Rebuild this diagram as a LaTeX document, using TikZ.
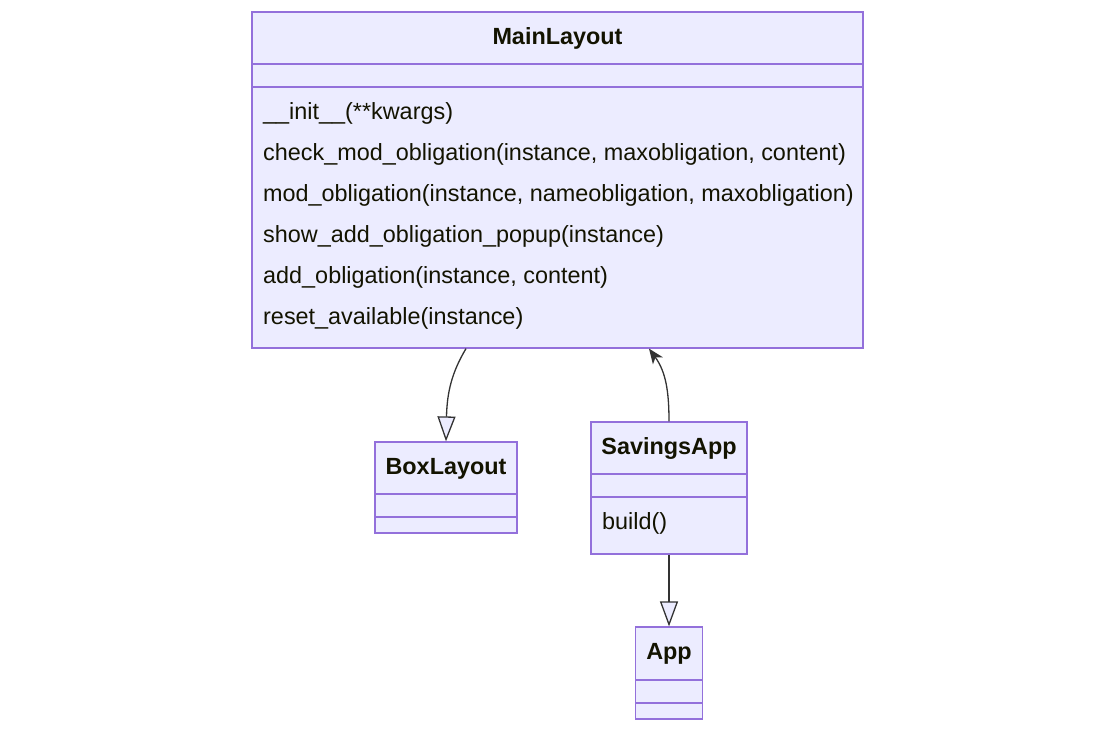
\documentclass[tikz,border=0pt]{standalone}
\usepackage{fontspec}
\setmainfont{Liberation Sans}
\usetikzlibrary{arrows.meta}
\definecolor{boxfill}{HTML}{ECECFF}
\definecolor{boxline}{HTML}{9370DB}
\definecolor{edgecol}{HTML}{333333}
\definecolor{txt}{HTML}{131300}
\tikzset{
  cls/.style={draw=boxline, fill=boxfill, line width=1.2pt, inner sep=0pt, rectangle},
  divider/.style={draw=boxline, line width=1.2pt},
  title/.style={font=\fontsize{23.4}{28}\selectfont\bfseries, text=txt, inner sep=0pt, text height=17pt, text depth=5pt},
  meth/.style={font=\fontsize{23.4}{28}\selectfont, text=txt, inner sep=0pt, anchor=west, text height=17pt, text depth=5pt},
  rel/.style={draw=edgecol, line width=1.3pt},
  inherit/.style={rel, -{Triangle[length=25pt, width=18pt, fill=boxfill]}},
  assoc/.style={rel, -{Stealth[length=15pt, width=12pt, inset=4pt]}}
}
\begin{document}
\begin{tikzpicture}[x=1pt, y=-1pt]
\useasboundingbox (0,0) rectangle (1116,731);
% MainLayout
\node[cls, minimum width=611pt, minimum height=336pt] (main) at (557.5,180) {};
\node[title] (mainT) at (557.5,38) {MainLayout};
\draw[divider] (252,64) -- (863,64);
\draw[divider] (252,87) -- (863,87);
\node[meth] (m1) at (263,113.5) {\_\_init\_\_(**kwargs)};
\node[meth] (m2) at (263,154.5) {check\_mod\_obligation(instance, maxobligation, content)};
\node[meth] (m3) at (263,195.5) {mod\_obligation(instance, nameobligation, maxobligation)};
\node[meth] (m4) at (263,236.5) {show\_add\_obligation\_popup(instance)};
\node[meth] (m5) at (263,277.5) {add\_obligation(instance, content)};
\node[meth] (m6) at (263,318.5) {reset\_available(instance)};
% BoxLayout
\node[cls, minimum width=142pt, minimum height=91pt] (box) at (446,487.5) {};
\node[title] (boxT) at (446,468) {BoxLayout};
\draw[divider] (375,494) -- (517,494);
\draw[divider] (375,517) -- (517,517);
% SavingsApp
\node[cls, minimum width=156pt, minimum height=132pt] (sav) at (669,488) {};
\node[title] (savT) at (669,448) {SavingsApp};
\draw[divider] (591,474) -- (747,474);
\draw[divider] (591,497) -- (747,497);
\node[meth] (s1) at (602,523.5) {build()};
% App
\node[cls, minimum width=67pt, minimum height=92pt] (app) at (669,673) {};
\node[title] (appT) at (669,653) {App};
\draw[divider] (635.5,680) -- (702.5,680);
\draw[divider] (635.5,703) -- (702.5,703);
% Relations
\draw[inherit] ([xshift=-91.5pt]main.south) .. controls (452,372) and (447,392) .. (box.north);
\draw[assoc] (sav.north) .. controls (669,392) and (666,372) .. ([xshift=91.5pt]main.south);
\draw[inherit] (sav.south) -- (app.north);
\end{tikzpicture}
\end{document}
